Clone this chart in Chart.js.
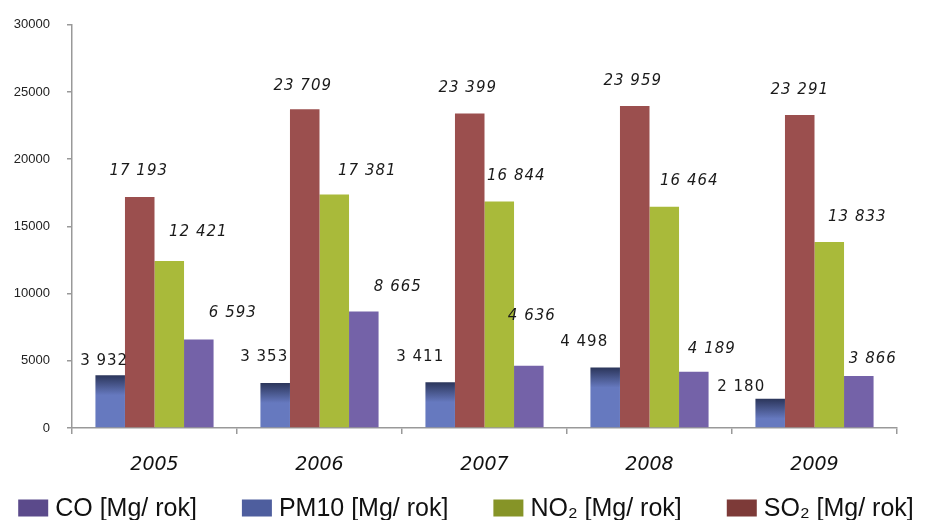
<!DOCTYPE html>
<html>
<head>
<meta charset="utf-8">
<script src="https://cdn.jsdelivr.net/npm/chart.js@4/dist/chart.umd.min.js"></script>
<style>
  html, body { margin: 0; padding: 0; background: #fff; }
  #chartcanvas { display: block; }
</style>
</head>
<body>
<canvas id="chartcanvas" width="932" height="520"></canvas>
<script>
// years on the x axis
var years = ["2005", "2006", "2007", "2008", "2009"];

// emissions per year, Mg / rok
var pm10 = [3932, 3353, 3411, 4498, 2180];
var so2 = [17193, 23709, 23399, 23959, 23291];
var no2 = [12421, 17381, 16844, 16464, 13833];
var co = [6593, 8665, 4636, 4189, 3866];

// y axis ticks
var yTicks = [0, 5000, 10000, 15000, 20000, 25000, 30000];

// series names (legend order is CO, PM10, NO2, SO2)
var names = ["PM10 [Mg/ rok]", "SO\u2082 [Mg/ rok]", "NO\u2082 [Mg/ rok]", "CO [Mg/ rok]"];
var legendOrder = [3, 0, 2, 1];

// bar + legend colours
var barColors = ["#6679bf", "#9b4f4e", "#a9ba3a", "#7462a8"];
var legendColors = ["#4e5e9e", "#7d3a38", "#869427", "#5b4a8b"];

// where each value label sits, relative to top centre of its bar (px)
var labelShift = [
	[[-6, -14], [-11, -26], [-20, -25], [-21, -25], [-29, -12]],
	[[-1, -26], [-2, -23], [-2, -25], [-2, -25], [0, -25]],
	[[29, -29], [33, -23], [17, -26], [25, -26], [28, -25]],
	[[34, -26], [34, -24], [3, -50], [18, -23], [14, -17]]
];

//format 23709 -> "23 709"
function fmt(v) {
	var s = String(v);
	return s.length > 3 ? s.slice(0, s.length - 3) + " " + s.slice(s.length - 3) : s;
}

//blue bars get a dark band at the top
function pm10Fill(c) {
	var chart = c.chart;
	if (!chart.chartArea || c.raw === undefined) return barColors[0];
	var y = chart.scales.y.getPixelForValue(c.raw);
	var g = chart.ctx.createLinearGradient(0, y, 0, y + 20);
	g.addColorStop(0, "#2b355a");
	g.addColorStop(1, "#6679bf");
	return g;
}

//value labels above bars
var valueLabels = {
	id: "valueLabels",
	afterDatasetsDraw: function(chart) {
		var ctx = chart.ctx;
		ctx.save();
		ctx.fillStyle = "#1a1a1a";
		ctx.textAlign = "center";
		ctx.textBaseline = "middle";
		if ("letterSpacing" in ctx) ctx.letterSpacing = "1px";
		chart.data.datasets.forEach(function(ds, di) {
			var meta = chart.getDatasetMeta(di);
			ctx.font = (di === 0 ? "" : "italic ") + "15px 'DejaVu Sans'";
			meta.data.forEach(function(bar, i) {
				var s = labelShift[di][i];
				ctx.fillText(fmt(ds.data[i]), bar.x + s[0], bar.y + s[1]);
			});
		});
		ctx.restore();
	}
};

//legend drawn along the bottom edge
var bottomLegend = {
	id: "bottomLegend",
	afterDraw: function(chart) {
		var ctx = chart.ctx;
		var boxW = 30, boxH = 17, gapText = 7, gapItem = 45;
		ctx.save();
		ctx.font = "25px 'Liberation Sans'";
		var widths = legendOrder.map(function(k) { return boxW + gapText + ctx.measureText(names[k]).width; });
		var total = widths.reduce(function(a, b) { return a + b; }, 0) + gapItem * (widths.length - 1);
		var x = (chart.width - total) / 2;
		var cy = 508;
		ctx.textBaseline = "middle";
		ctx.textAlign = "left";
		legendOrder.forEach(function(k, n) {
			ctx.fillStyle = legendColors[k];
			ctx.fillRect(x, cy - boxH / 2, boxW, boxH);
			ctx.fillStyle = "#111";
			ctx.fillText(names[k], x + boxW + gapText, cy + 1);
			x += widths[n] + gapItem;
		});
		ctx.restore();
	}
};

var seriesData = [pm10, so2, no2, co];
var data = {
	labels: years,
	datasets: seriesData.map(function(arr, i) {
		return {
			label: names[i],
			data: arr,
			backgroundColor: i === 0 ? pm10Fill : barColors[i],
			borderWidth: 0,
			barPercentage: 1,
			categoryPercentage: 0.716
		};
	})
};

var options = {
	responsive: false,
	animation: false,
	layout: { padding: { top: 23, right: 35, left: 0, bottom: 0 } },
	plugins: {
		legend: { display: false },
		tooltip: { enabled: false }
	},
	scales: {
		x: {
			grid: { display: true, offset: true, drawOnChartArea: false, drawTicks: true, tickLength: 6, color: "#999", lineWidth: 1.5 },
			border: { display: true, color: "#999", width: 1.5 },
			ticks: { color: "#111", padding: 20, font: { family: "DejaVu Sans", size: 19, style: "italic" } },
			afterFit: function(scale) { scale.height = 92; }
		},
		y: {
			min: 0,
			max: 30000,
			afterBuildTicks: function(scale) { scale.ticks = yTicks.map(function(v) { return { value: v }; }); },
			grid: { display: true, drawOnChartArea: false, drawTicks: true, tickLength: 5, color: "#999", lineWidth: 1.5 },
			border: { display: true, color: "#999", width: 1.5 },
			ticks: {
				color: "#222",
				padding: 17,
				font: { family: "Liberation Sans", size: 13 },
				callback: function(v) { return String(v); }
			},
			afterFit: function(scale) { scale.width = 72; }
		}
	}
};

var ctx = document.getElementById("chartcanvas");
var barchart = new Chart(ctx, {
	type: "bar",
	data: data,
	options: options,
	plugins: [valueLabels, bottomLegend]
});
</script>
</body>
</html>
